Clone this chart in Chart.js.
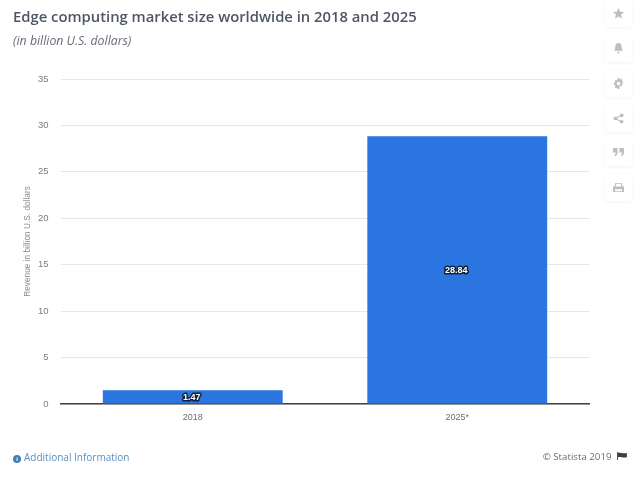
<!DOCTYPE html>
<html>
<head>
<meta charset="utf-8">
<title>Edge computing market size</title>
<script src="https://cdn.jsdelivr.net/npm/chart.js@4"></script>
<style>
  html, body { margin: 0; padding: 0; background: #fff; }
  #wrap { position: relative; width: 640px; height: 480px; overflow: hidden; font-family: "Open Sans", sans-serif; }
  canvas { position: absolute; left: 0; top: 0; }
  .text { position: absolute; white-space: nowrap; }
  #title { left: 13px; top: 6px; font-size: 14.8px; font-weight: 600; color: #4e5566; }
  #subtitle { left: 13px; top: 32px; font-size: 12.3px; font-style: italic; color: #666c78; }
  #info { left: 13px; top: 450px; font-size: 10px; line-height: 14px; color: #5b8fc0; }
  #info i { display: inline-block; width: 8px; height: 8px; border-radius: 50%; background: #3f7fb8; margin-right: 3px; vertical-align: 0; color: #fff; font: bold 6px/8px "Liberation Sans"; text-align: center; }
  #credit { right: 13px; top: 450px; font-size: 9.7px; line-height: 14px; color: #666c78; }
  #credit svg { margin-left: 3px; }
  .tool { position: absolute; left: 605px; width: 27px; height: 27px; background: #fff; box-shadow: 0 1px 4px rgba(0,0,0,0.05); border-radius: 2px; }
  .tool svg { position: absolute; left: 8px; top: 8px; width: 11px; height: 11px; fill: #bcbec2; }
</style>
</head>
<body>
<div id="wrap">
  <canvas id="chart" width="640" height="480"></canvas>
  <div class="text" id="title">Edge computing market size worldwide in 2018 and 2025</div>
  <div class="text" id="subtitle">(in billion U.S. dollars)</div>
  <div class="text" id="info"><i>i</i>Additional Information</div>
  <div class="text" id="credit">© Statista 2019 <svg width="10" height="8" viewBox="0 0 11 9" fill="#3a3f4a"><path d="M0 0h1v9H0zM1 1c3-1 4 1 10 0v5c-5 1-7-1-10 0z"/></svg></div>
  <div class="tool" style="top:0"><svg viewBox="0 0 12 12"><path d="M6 0l1.800 4 4.200.4-3.200 2.800 1 4.300L6 9.200 2.200 11.500l1-4.300L0 4.400 4.200 4z"/></svg></div>
  <div class="tool" style="top:35px"><svg viewBox="0 0 12 12"><path d="M6 0c2.500 0 3.500 2 3.500 4.500 0 2 1 3 1.500 4H1c.5-1 1.500-2 1.500-4C2.500 2 3.500 0 6 0zM4.500 9.500h3L6 12z"/></svg></div>
  <div class="tool" style="top:70px"><svg viewBox="0 0 12 12"><path fill-rule="evenodd" d="M5 0h2l.4 1.800 1.500-1 1.400 1.400-1 1.500 1.700.3v2l-1.700.4 1 1.500-1.400 1.400-1.500-1L7 12H5l-.4-1.700-1.500 1-1.400-1.400 1-1.500L1 7V5l1.700-.3-1-1.500 1.400-1.400 1.500 1zM6 4a2 2 0 1 0 0 4 2 2 0 0 0 0-4z"/></svg></div>
  <div class="tool" style="top:105px"><svg viewBox="0 0 12 12"><circle cx="2.500" cy="6" r="2"/><circle cx="9.500" cy="2.500" r="2"/><circle cx="9.500" cy="9.500" r="2"/><path d="M2 5.500l7-3.500.5 1-7 3.500zM2.500 5.500l7 3.500-.5 1-7-3.500z"/></svg></div>
  <div class="tool" style="top:139px"><svg viewBox="0 0 12 12"><path d="M0 1h5v5c0 2-1 3.500-3 4V8c.7-.2 1-.7 1-2H0zM7 1h5v5c0 2-1 3.500-3 4V8c.7-.2 1-.7 1-2H7z"/></svg></div>
  <div class="tool" style="top:174px"><svg viewBox="0 0 12 12"><path fill-rule="evenodd" d="M2.500 1h7l1 4H12v6H0V5h1.500zM3.500 2l-.7 3h6.400l-.7-3zM2 8v2h8V8z"/></svg></div>
</div>
<script>
const categories = ['2018', '2025*'];
const revenue = [1.47, 28.84];
const valueLabels = ['1.47', '28.84'];
const yTicks = [0, 5, 10, 15, 20, 25, 30, 35];

// white figures with a dark halo, centred in each bar
const barLabels = {
  id: 'barLabels',
  afterDatasetsDraw(chart) {
    const ctx = chart.ctx;
    const yScale = chart.scales.y;
    chart.getDatasetMeta(0).data.forEach((bar, i) => {
      const y = (yScale.getPixelForValue(revenue[i]) + yScale.getPixelForValue(0)) / 2;
      ctx.save();
      ctx.font = 'bold 9px "Liberation Sans", sans-serif';
      ctx.textAlign = 'center';
      ctx.textBaseline = 'middle';
      ctx.lineJoin = 'round';
      ctx.lineWidth = 3;
      ctx.strokeStyle = '#10203a';
      ctx.fillStyle = '#ffffff';
      ctx.strokeText(valueLabels[i], bar.x - 1, y);
      ctx.fillText(valueLabels[i], bar.x - 1, y);
      ctx.restore();
    });
  },
};

new Chart(document.getElementById('chart'), {
  type: 'bar',
  data: {
    labels: categories,
    datasets: [{
      data: revenue,
      backgroundColor: '#2b75e0',
      barPercentage: 0.68,
      categoryPercentage: 1,
    }],
  },
  options: {
    responsive: false,
    animation: false,
    devicePixelRatio: 1,
    layout: { padding: { top: 79, right: 50.5, bottom: 0, left: 0 } },
    plugins: { legend: { display: false }, tooltip: { enabled: false } },
    scales: {
      x: {
        z: 1,
        grid: { display: false },
        border: { color: '#444444', width: 1.5 },
        ticks: { color: '#6f6f6f', font: { family: 'Liberation Sans', size: 9 }, padding: 0 },
        afterFit(scale) { scale.height = 76; },
      },
      y: {
        min: 0,
        max: 35,
        afterBuildTicks(scale) { scale.ticks = yTicks.map(value => ({ value })); },
        grid: { color: '#e6e6e6', lineWidth: 1, drawTicks: false },
        border: { display: false },
        ticks: { color: '#7a7a7a', font: { family: 'Liberation Sans', size: 9.5 }, padding: 12 },
        title: {
          display: true,
          text: 'Revenue in billion U.S. dollars',
          color: '#8a8a8a',
          font: { family: 'Liberation Sans', size: 8.3 },
          padding: { top: 23, bottom: 0 },
        },
        afterFit(scale) { scale.width = 60.5; },
      },
    },
  },
  plugins: [barLabels],
});
</script>
</body>
</html>
